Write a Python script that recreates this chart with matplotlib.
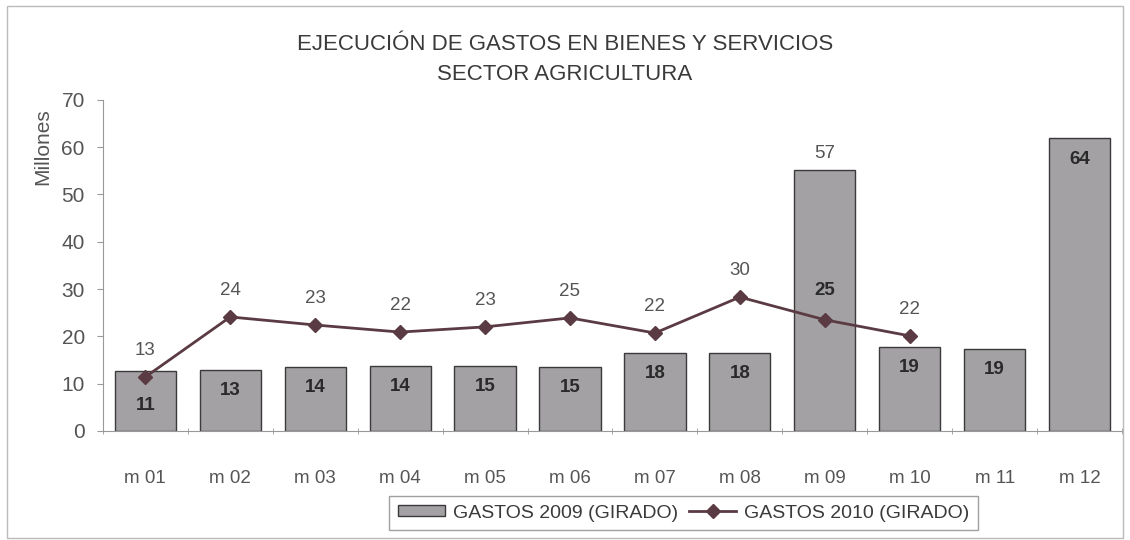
import numpy as np
import matplotlib
matplotlib.use('Agg')
import matplotlib.pyplot as plt
from matplotlib.patches import Rectangle

plt.rcParams['font.family'] = ['Liberation Sans', 'DejaVu Sans']

# Data
meses = ['m01', 'm02', 'm03', 'm04', 'm05', 'm06', 'm07', 'm08', 'm09', 'm10', 'm11', 'm12']
gastos_2009 = [12.7, 12.9, 13.5, 13.7, 13.7, 13.5, 16.5, 16.5, 55.2, 17.8, 17.3, 61.9]
gastos_2010 = [11.4, 24.1, 22.4, 20.9, 22.0, 23.9, 20.7, 28.3, 23.5, 20.1]
etiquetas_2009 = ['11', '13', '14', '14', '15', '15', '18', '18', '57', '19', '19', '64']
etiquetas_2010 = ['13', '24', '23', '22', '23', '25', '22', '30', '25', '22']

bar_color = '#a3a1a4'
line_color = '#5b3b43'
gray = '#555555'

fig = plt.figure(figsize=(11.3, 5.4), dpi=100)
ax = fig.add_axes([0.091, 0.202, 0.902, 0.613])

x = np.arange(len(meses))
bars = ax.bar(x, gastos_2009, width=0.72, color=bar_color, edgecolor='#3a3a3a', linewidth=1.0,
              label='GASTOS 2009 (GIRADO)', zorder=2)
x2 = np.arange(len(gastos_2010))
line, = ax.plot(x2, gastos_2010, color=line_color, linewidth=2, marker='D', markersize=7,
                label='GASTOS 2010 (GIRADO)', zorder=3)

# bar labels (bold, inside near top; m09 label sits above the bar)
for i, (v, t) in enumerate(zip(gastos_2009, etiquetas_2009)):
    if i == 8:
        ax.annotate(t, (i, v), xytext=(0, 6), textcoords='offset points', ha='center',
                    va='bottom', fontsize=13.5, color=gray)
    else:
        off = -25 if i == 0 else -15
        ax.annotate(t, (i, v), xytext=(0, off), textcoords='offset points', ha='center',
                    va='center', fontsize=13.5, fontweight='bold', color='#2a2a2a', zorder=4)

# line labels
for i, (v, t) in enumerate(zip(gastos_2010, etiquetas_2010)):
    if i == 8:
        ax.annotate(t, (i, v), xytext=(0, 21), textcoords='offset points', ha='center',
                    va='center', fontsize=13.5, fontweight='bold', color='#2a2a2a', zorder=4)
    else:
        ax.annotate(t, (i, v), xytext=(0, 19), textcoords='offset points', ha='center',
                    va='center', fontsize=13.5, color=gray, zorder=4)

ax.set_xlim(-0.5, len(meses) - 0.5)
ax.set_ylim(0, 70)
ax.set_yticks(range(0, 71, 10))
ax.set_xticks(x)
ax.set_xticklabels([' '.join([m[0], m[1:]]) for m in meses], fontsize=13.5, color=gray)
ax.set_xticks(np.arange(-0.5, len(meses), 1), minor=True)
ax.tick_params(axis='x', which='major', length=0, pad=28)
ax.tick_params(axis='x', which='minor', length=5, color='#999999', direction='inout')
ax.tick_params(axis='y', labelsize=15, labelcolor=gray, color='#999999', length=4, pad=9)
for s in ['top', 'right']:
    ax.spines[s].set_visible(False)
for s in ['left', 'bottom']:
    ax.spines[s].set_color('#999999')

fig.text(0.5, 0.917, 'EJECUCIÓN DE GASTOS EN BIENES Y SERVICIOS', ha='center', va='center',
         fontsize=16, color='#3a3a3a')
fig.text(0.5, 0.862, 'SECTOR AGRICULTURA', ha='center', va='center', fontsize=16, color='#3a3a3a')
fig.text(0.038, 0.728, 'Millones', rotation=90, ha='center', va='center', fontsize=15, color=gray)

leg = fig.legend([bars, line], ['GASTOS 2009 (GIRADO)', 'GASTOS 2010 (GIRADO)'],
                 loc='center', bbox_to_anchor=(0.605, 0.05), ncol=2, frameon=True,
                 fancybox=False, fontsize=14, handlelength=2.4, handleheight=0.5,
                 columnspacing=0.6, handletextpad=0.4, borderpad=0.45)
leg.get_frame().set_edgecolor('#888888')
for t in leg.get_texts():
    t.set_color('#3a3a3a')

fig.patches.append(Rectangle((0.006, 0.004), 0.988, 0.985, transform=fig.transFigure,
                             fill=False, edgecolor='#bbbbbb', linewidth=1))

fig.savefig('out.png', dpi=100)
